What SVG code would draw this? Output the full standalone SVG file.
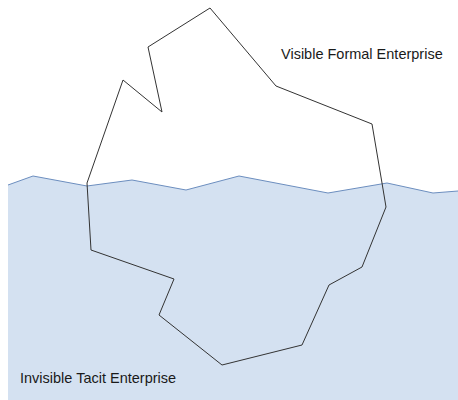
<svg xmlns="http://www.w3.org/2000/svg" width="458" height="400" viewBox="0 0 458 400">
<style>
.water{fill:#d4e1f1;stroke:#6c8ebf;stroke-width:1}
.berg{fill:none;stroke:#333333;stroke-width:1;stroke-linejoin:miter}
.label{font-family:"Liberation Sans",Arial,sans-serif;font-size:14.5px;fill:#1a1a1a}
</style>
<rect width="458" height="400" fill="#ffffff"/>
<g id="water">
<path d="M8,400 L8,185 L33,176 L87,186 L132,180 L186,190 L239,176 L328,193 L387,183 L433,193 L458,191 L458,400 Z" fill="#d4e1f1" stroke="none"/>
<polyline class="water" fill="none" points="8,185 33,176 87,186 132,180 186,190 239,176 328,193 387,183 433,193 458,191" style="fill:none"/>
</g>
<g id="iceberg">
<polygon class="berg" points="87,183 123,80 162,112 148,47 210,8 276,86 372,124 382,183 386,207 362,267 329,285 302,345 222,365 159,315 174,279 91,250"/>
</g>
<g id="visible-label">
<text class="label" x="281" y="59">Visible Formal Enterprise</text>
</g>
<g id="invisible-label">
<text class="label" x="20" y="383">Invisible Tacit Enterprise</text>
</g>
</svg>
